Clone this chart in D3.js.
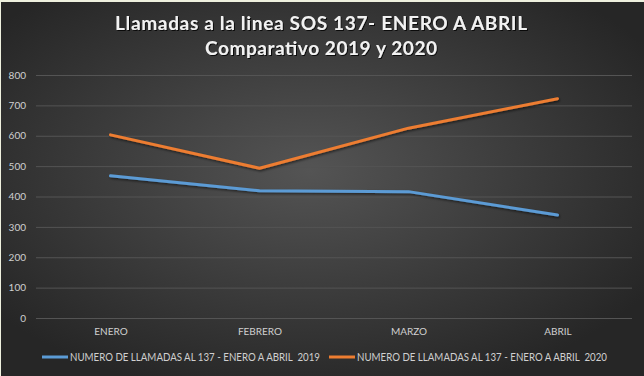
<!DOCTYPE html>
<html>
<head>
<meta charset="utf-8">
<script src="https://cdn.jsdelivr.net/npm/d3@7"></script>
<style>
  body { margin: 0; background: #eef0de; }
  svg { display: block; }
  text { font-family: Lato, "Open Sans", sans-serif; }
</style>
</head>
<body>
<svg width="644" height="376"></svg>
<script>
"use strict";

const months = ["ENERO", "FEBRERO", "MARZO", "ABRIL"];
const calls2019 = [468, 419, 416, 339];
const calls2020 = [603, 493, 625, 722];
const seriesNames = [
  "NUMERO DE LLAMADAS AL 137 - ENERO A ABRIL  2019",
  "NUMERO DE LLAMADAS AL 137 - ENERO A ABRIL  2020"
];
const yTicks = [0, 100, 200, 300, 400, 500, 600, 700, 800];
const titleLines = ["Llamadas a la linea SOS 137- ENERO A ABRIL", "Comparativo 2019 y 2020"];

const svg = d3.select("svg");
const width = +svg.attr("width");
const height = +svg.attr("height");

const colors = ["#5b9bd5", "#ed7d31"];
const margin = { top: 75, right: 12, bottom: 58, left: 36 };

const defs = svg.append("defs");
const grad = defs.append("radialGradient")
  .attr("id", "bg")
  .attr("cx", "48%").attr("cy", "45%").attr("r", "62%");
grad.append("stop").attr("offset", "0%").attr("stop-color", "#545454");
grad.append("stop").attr("offset", "100%").attr("stop-color", "#262626");

const shadow = defs.append("filter").attr("id", "shadow")
  .attr("x", "-10%").attr("y", "-20%").attr("width", "120%").attr("height", "160%");
shadow.append("feDropShadow")
  .attr("dx", 1).attr("dy", 1.5).attr("stdDeviation", 1)
  .attr("flood-color", "#000").attr("flood-opacity", 0.55);

const tshadow = defs.append("filter").attr("id", "tshadow");
tshadow.append("feDropShadow")
  .attr("dx", 1).attr("dy", 1).attr("stdDeviation", 0.6)
  .attr("flood-color", "#000").attr("flood-opacity", 0.8);

svg.append("rect")
  .attr("x", 1).attr("y", 2)
  .attr("width", width - 1).attr("height", height - 2)
  .attr("fill", "url(#bg)");

const xScale = d3.scalePoint()
  .domain(months)
  .range([margin.left, width - margin.right])
  .padding(0.5);

const yScale = d3.scaleLinear()
  .domain([0, 800])
  .range([height - margin.bottom, margin.top]);

// grid + y labels
const yAxis = d3.axisLeft(yScale)
  .tickValues(yTicks)
  .tickSize(-(width - margin.left - margin.right))
  .tickPadding(10);

const yAxisG = svg.append("g")
  .attr("transform", `translate(${margin.left},0)`)
  .call(yAxis);
yAxisG.select(".domain").remove();
yAxisG.selectAll(".tick line").attr("stroke", "#545454").attr("stroke-width", 1);
yAxisG.selectAll(".tick text")
  .attr("fill", "#d0d0d0")
  .style("font-size", "10px");

const xAxis = d3.axisBottom(xScale).tickSize(0).tickPadding(10);
const xAxisG = svg.append("g")
  .attr("transform", `translate(0,${height - margin.bottom})`)
  .call(xAxis);
xAxisG.select(".domain").remove();
xAxisG.selectAll(".tick text")
  .attr("fill", "#d0d0d0")
  .style("font-size", "10px");

// lines
const line = d3.line()
  .x((d, i) => xScale(months[i]))
  .y(d => yScale(d));

[calls2019, calls2020].forEach((values, i) => {
  svg.append("path")
    .datum(values)
    .attr("fill", "none")
    .attr("stroke", colors[i])
    .attr("stroke-width", 3)
    .attr("stroke-linecap", "round")
    .attr("stroke-linejoin", "round")
    .attr("filter", "url(#shadow)")
    .attr("d", line);
});

// title
svg.append("g")
  .selectAll("text")
  .data(titleLines)
  .enter()
  .append("text")
  .attr("x", 321)
  .attr("y", (d, i) => 30 + i * 25)
  .attr("text-anchor", "middle")
  .attr("fill", "#f2f2f2")
  .attr("filter", "url(#tshadow)")
  .style("font-size", "19px")
  .style("font-weight", "bold")
  .attr("textLength", (d, i) => (i === 0 ? 412 : 232))
  .attr("lengthAdjust", "spacing")
  .text(d => d);

// legend
const legendX = [42, 329];
const legend = svg.append("g")
  .selectAll("g")
  .data(seriesNames)
  .enter()
  .append("g")
  .attr("transform", (d, i) => `translate(${legendX[i]},357)`);

legend.append("line")
  .attr("x1", 0).attr("x2", 26)
  .attr("stroke", (d, i) => colors[i])
  .attr("stroke-width", 3);

legend.append("text")
  .attr("x", 28)
  .attr("dy", "0.35em")
  .attr("fill", "#d0d0d0")
  .style("font-size", "10.5px")
  .style("white-space", "pre")
  .attr("textLength", 250)
  .attr("lengthAdjust", "spacingAndGlyphs")
  .text(d => d);
</script>
</body>
</html>
